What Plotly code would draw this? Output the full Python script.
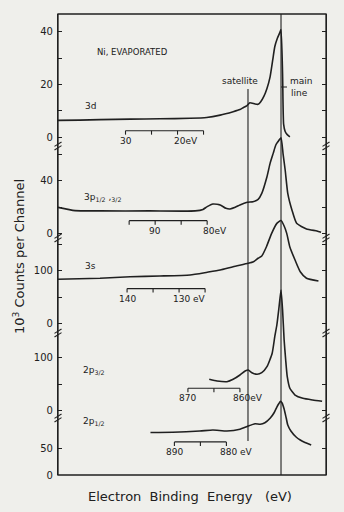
import plotly.graph_objects as go

# ---------------- data ----------------
# binding energies (eV) and counts (10^3 per channel)
e_3d = [43.0, 38.8, 34.9, 29.1, 23.4, 17.6, 14.4, 11.8, 9.3, 8.0, 7.3, 6.7, 6.1, 5.1, 4.5,
        4.0, 3.4, 2.8, 2.2, 1.7, 1.3, 0.8, 0.3, 0.1, -0.2, -0.4, -0.7, -1.1, -1.6]
c_3d = [6.4, 6.5, 6.7, 6.9, 7.0, 7.2, 7.5, 8.4, 9.7, 10.5, 11.3, 11.9, 13.1, 12.6, 12.5,
        13.5, 15.5, 18.5, 22.9, 29.2, 34.3, 37.5, 39.8, 40.8, 24, 5, 2.2, 1.0, 0.2]

e_3p = [108.7, 105.4, 100.6, 91.0, 82.3, 80.8, 80.0, 78.9, 77.5, 76.4, 75.6, 74.6, 73.7, 72.3,
        71.2, 70.2, 69.5, 68.5, 67.9, 67.3, 66.8, 66.4, 65.8, 65.4, 65.0, 64.5, 63.7, 62.8,
        60.9, 58.9, 58.1]
c_3p = [20.0, 17.5, 17.3, 17.3, 17.3, 18.4, 20.5, 22.5, 21.8, 19.3, 18.8, 20.0, 21.8, 23.8,
        24.2, 26.0, 30.5, 43, 53, 60.5, 66.8, 69.2, 72.2, 60, 48, 30.5, 18, 8.0,
        3.75, 2.25, 1.3]

e_3s = [153.3, 145.2, 139.4, 133.7, 127.9, 124.6, 122.1, 119.6, 116.7, 115.7, 114.8, 114.1,
        113.2, 112.2, 111.2, 110.4, 109.8, 109.3, 108.7, 107.7, 106.7, 105.5, 103.2]
c_3s = [83.7, 85.6, 88.6, 89.9, 91.8, 97, 101.3, 107.6, 114, 117, 123.6, 128,
        145.6, 171, 190, 195.4, 185, 171, 145, 120.3, 98, 85.6, 80.4]

e_2p32 = [865.9, 864.4, 862.5, 861.3, 860.0, 859.0, 858.4, 857.7, 856.7, 855.8, 854.8, 853.8,
          853.3, 852.9, 852.5, 852.1, 851.8, 851.5, 851.2, 850.9, 850.4, 849.4, 847.9, 846.0,
          844.2]
c_2p32 = [58.8, 55.6, 54.3, 58.8, 66.9, 74.3, 76.2, 71.2, 68.2, 71.2, 82.4, 107.5,
          138.6, 160.5, 192.3, 226, 188.6, 132.4, 95, 63.7, 42, 29.4, 23.2, 20,
          17.6]

e_2p12 = [894.6, 890.3, 885.1, 882.6, 879.9, 877.4, 876.0, 874.5, 873.5, 872.6, 871.6, 870.8,
          870.3, 869.9, 869.6, 869.3, 868.9, 868.5, 868.2, 867.6, 866.6, 865.8, 864.9, 863.7]
c_2p12 = [79.6, 80, 82.4, 84.3, 82.4, 85.6, 90.8, 95.9, 94.9, 97.8, 106.2, 117,
          127.3, 133.9, 138, 134.8, 123.6, 106.7, 93.6, 82.4, 71.2, 65.5, 60.9, 56.2]

# main-line binding energy of each spectrum (eV)
main_3d, main_3p, main_3s, main_2p32, main_2p12 = 0.1, 65.8, 110.4, 852.1, 869.5
satellite_shift = 6.35   # eV above main line

# scale-bar ticks (eV) and labelled ticks
bar_3d, lab_3d = [30, 25, 20, 15], {30: "30", 20: "20eV"}
bar_3p, lab_3p = [95, 90, 85, 80], {90: "90", 80: "80eV"}
bar_3s, lab_3s = [140, 135, 130, 125], {140: "140", 130: "130 eV"}
bar_2p32, lab_2p32 = [870, 865, 860], {870: "870", 860: "860eV"}
bar_2p12, lab_2p12 = [890, 885, 880], {890: "890", 880: "880 eV"}

# y tick values (labelled) and minor tick values for each panel
yt_3d, ym_3d = [0, 20, 40], [10, 30]
yt_3p, ym_3p = [0, 40], [20, 60]
yt_3s, ym_3s = [0, 100], [50, 150]
yt_2p32, ym_2p32 = [0, 100], [50]
yt_2p12, ym_2p12 = [0, 50], []

# ---------------- styling / layout ----------------
INK = "#202020"
BG = "#efefeb"
FONT = "DejaVu Sans"

panels = [
    dict(ax="y",  E=e_3d,   C=c_3d,   E0=main_3d,   rng=[-127.9, 46.7], bar=bar_3d,   lab=lab_3d,   by=2.5,  tl=1.5, yt=yt_3d,   ym=ym_3d),
    dict(ax="y2", E=e_3p,   C=c_3p,   E0=main_3p,   rng=[-180.9, 165.1], bar=bar_3p,  lab=lab_3p,   by=10,   tl=3.0, yt=yt_3p,   ym=ym_3p),
    dict(ax="y3", E=e_3s,   C=c_3s,   E0=main_3s,   rng=[-288.4, 588.0], bar=bar_3s,  lab=lab_3s,   by=66,   tl=7.6, yt=yt_3s,   ym=ym_3s),
    dict(ax="y4", E=e_2p32, C=c_2p32, E0=main_2p32, rng=[-120.4, 742.9], bar=bar_2p32, lab=lab_2p32, by=42,  tl=7.5, yt=yt_2p32, ym=ym_2p32),
    dict(ax="y5", E=e_2p12, C=c_2p12, E0=main_2p12, rng=[0, 863.3],      bar=bar_2p12, lab=lab_2p12, by=62,  tl=7.5, yt=yt_2p12, ym=ym_2p12),
]

fig = go.Figure()
annotations = []

for p in panels:
    xs = [e - p["E0"] for e in p["E"]]
    fig.add_trace(go.Scatter(x=xs, y=p["C"], mode="lines", xaxis="x", yaxis=p["ax"],
                             line=dict(color=INK, width=1.6, shape="spline", smoothing=0.5),
                             hoverinfo="skip", showlegend=False))
    # scale bar
    bx = [p["bar"][0] - p["E0"], p["bar"][-1] - p["E0"], None]
    byy = [p["by"], p["by"], None]
    for t in p["bar"]:
        bx += [t - p["E0"], t - p["E0"], None]
        byy += [p["by"], p["by"] - p["tl"], None]
    fig.add_trace(go.Scatter(x=bx, y=byy, mode="lines", xaxis="x", yaxis=p["ax"],
                             line=dict(color=INK, width=1.1), hoverinfo="skip", showlegend=False))
    for t, txt in p["lab"].items():
        num = txt.split("e")[0].strip()
        if "eV" in txt:
            annotations.append(dict(x=t - p["E0"], y=p["by"], xref="x", yref=p["ax"], text=txt,
                                    xanchor="left", yanchor="middle", xshift=-len(num) * 5.7 / 2,
                                    yshift=-10, showarrow=False, font=dict(size=9, color=INK, family=FONT)))
        else:
            annotations.append(dict(x=t - p["E0"], y=p["by"], xref="x", yref=p["ax"], text=txt,
                                    xanchor="center", yanchor="middle", yshift=-10,
                                    showarrow=False, font=dict(size=9, color=INK, family=FONT)))

# geometry helpers (plot area: 268 x 461 px)
def px(xpix):
    return (xpix - 58) / 268.0

def py(ypix):
    return (475 - ypix) / 461.0

small = dict(size=9, color=INK, family=FONT)
annotations += [
    dict(x=px(95), y=py(52), xref="paper", yref="paper", text="Ni, EVAPORATED", xanchor="left",
         yanchor="middle", showarrow=False, font=dict(size=8.5, color=INK, family=FONT)),
    dict(x=px(83), y=py(106), xref="paper", yref="paper", text="3d", xanchor="left",
         yanchor="middle", showarrow=False, font=small),
    dict(x=px(82), y=py(197), xref="paper", yref="paper", text="3p<sub>1/2</sub> ,<sub>3/2</sub>",
         xanchor="left", yanchor="middle", showarrow=False, font=small),
    dict(x=px(83), y=py(266), xref="paper", yref="paper", text="3s", xanchor="left",
         yanchor="middle", showarrow=False, font=small),
    dict(x=px(81), y=py(370), xref="paper", yref="paper", text="2p<sub>3/2</sub>", xanchor="left",
         yanchor="middle", showarrow=False, font=small),
    dict(x=px(81), y=py(421), xref="paper", yref="paper", text="2p<sub>1/2</sub>", xanchor="left",
         yanchor="middle", showarrow=False, font=small),
    dict(x=px(240), y=py(81), xref="paper", yref="paper", text="satellite", xanchor="center",
         yanchor="middle", showarrow=False, font=small),
    dict(x=px(288), y=py(81), xref="paper", yref="paper", text="main", xanchor="left",
         yanchor="middle", showarrow=False, font=small),
    dict(x=px(289), y=py(93), xref="paper", yref="paper", text="line", xanchor="left",
         yanchor="middle", showarrow=False, font=small),
    dict(x=px(190), y=py(496), xref="paper", yref="paper", text="Electron  Binding  Energy   (eV)",
         xanchor="center", yanchor="middle", showarrow=False,
         font=dict(size=13, color=INK, family=FONT)),
    dict(x=px(19), y=py(257), xref="paper", yref="paper", text="10<sup>3</sup> Counts per Channel",
         textangle=-90, xanchor="center", yanchor="middle", showarrow=False,
         font=dict(size=13, color=INK, family=FONT)),
]

shapes = [
    dict(type="rect", xref="paper", yref="paper", x0=0, x1=1, y0=0, y1=1,
         line=dict(color=INK, width=1.3)),
    dict(type="line", xref="x", yref="paper", x0=0, x1=0, y0=0, y1=1,
         line=dict(color=INK, width=1.1)),
    dict(type="line", xref="x", yref="paper", x0=satellite_shift, x1=satellite_shift,
         y0=py(441), y1=py(89), line=dict(color=INK, width=1.1)),
    dict(type="line", xref="x", xsizemode="pixel", xanchor=0, x0=0, x1=6,
         yref="paper", y0=py(87), y1=py(87), line=dict(color=INK, width=1.0)),
]
# axis break marks
for yb in [146, 238, 333, 418]:
    for xa in [0, 1]:
        for off in [-1.8, 1.8]:
            shapes.append(dict(type="line", xref="paper", xsizemode="pixel", xanchor=xa,
                               x0=-3.5, x1=3.5, yref="paper", ysizemode="pixel",
                               yanchor=py(yb), y0=off - 2.2, y1=off + 2.2,
                               line=dict(color=INK, width=1.1)))

layout = dict(
    width=344, height=512,
    margin=dict(l=58, r=18, t=14, b=37),
    paper_bgcolor=BG, plot_bgcolor=BG,
    showlegend=False,
    xaxis=dict(range=[42.88, -8.65], showticklabels=False, ticks="", showgrid=False,
               zeroline=False, showline=False, fixedrange=True),
    annotations=annotations, shapes=shapes,
)
for i, p in enumerate(panels):
    key = "yaxis" if i == 0 else "yaxis%d" % (i + 1)
    ax = dict(range=p["rng"], tickmode="array", tickvals=p["yt"], ticks="inside", ticklen=4,
              tickwidth=1.1, tickcolor=INK, showline=True, linecolor=INK, linewidth=1.2,
              mirror="ticks", showgrid=False, zeroline=False, anchor="x", side="left",
              tickfont=dict(size=10, color=INK, family=FONT), ticklabelstandoff=2)
    if p["ym"]:
        ax["minor"] = dict(tickmode="array", tickvals=p["ym"], ticks="inside", ticklen=4,
                           tickwidth=1.1, tickcolor=INK, showgrid=False)
    if i > 0:
        ax["overlaying"] = "y"
    layout[key] = ax

fig.update_layout(**layout)
fig.write_html("out.html")
